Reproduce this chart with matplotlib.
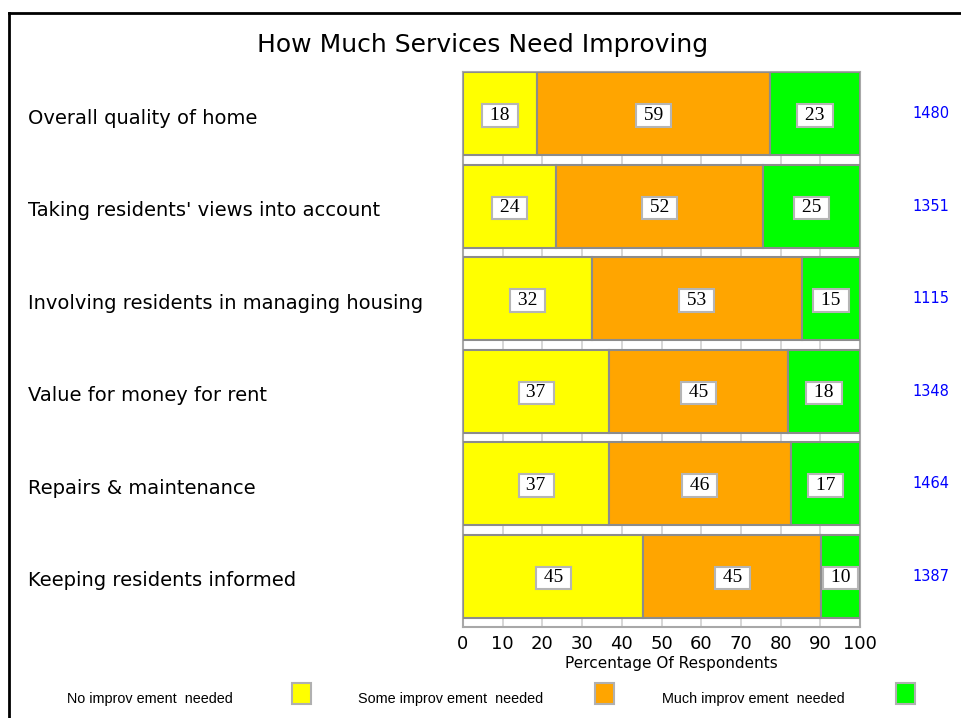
import matplotlib
matplotlib.use("Agg")
import matplotlib.pyplot as plt
import matplotlib.transforms as mtransforms
from matplotlib.patches import Rectangle
from matplotlib.lines import Line2D
import numpy as np

categories = [
    "Overall quality of home",
    "Taking residents' views into account",
    "Involving residents in managing housing",
    "Value for money for rent",
    "Repairs & maintenance",
    "Keeping residents informed",
]
series_names = ["No improv ement  needed", "Some improv ement  needed", "Much improv ement  needed"]
colors = ["#ffff00", "#ffa500", "#00ff00"]

# segment widths (percent)
no_improve = [18.6, 23.4, 32.4, 36.8, 36.8, 45.4]
some_improve = [58.7, 52.2, 53.0, 45.1, 45.7, 44.9]
much_improve = [22.7, 24.4, 14.6, 18.1, 17.5, 9.7]
# labels printed in the boxes
no_labels = [18, 24, 32, 37, 37, 45]
some_labels = [59, 52, 53, 45, 46, 45]
much_labels = [23, 25, 15, 18, 17, 10]
respondents = [1480, 1351, 1115, 1348, 1464, 1387]
xticks = [0, 10, 20, 30, 40, 50, 60, 70, 80, 90, 100]

W, H = 961, 718
fig = plt.figure(figsize=(W / 100, H / 100), dpi=100)
fig.patch.set_facecolor("white")

ax = fig.add_axes([463 / W, 1 - 627 / H, (860 - 463) / W, (627 - 72) / H])
ax.set_xlim(0, 100)
ax.set_ylim(len(categories), 0)

bar_h = 0.9
y = np.arange(len(categories))
series = [no_improve, some_improve, much_improve]
labels = [no_labels, some_labels, much_labels]
left = np.zeros(len(categories))
for vals, labs, col in zip(series, labels, colors):
    vals = np.array(vals)
    ax.barh(y, vals, left=left, height=bar_h, align="edge", color=col,
            edgecolor="#8c8c8c", linewidth=1.5, zorder=3)
    for yi, (l, v, lab) in enumerate(zip(left, vals, labs)):
        ax.text(l + v / 2, yi + bar_h / 2 + 0.02, f" {lab} ", ha="center", va="center",
                fontsize=14, family="Liberation Serif", color="black", zorder=5,
                bbox=dict(boxstyle="square,pad=0.15", facecolor="white",
                          edgecolor="#b5b5b5", linewidth=1.5))
    left = left + vals

ax.set_xticks(xticks)
ax.set_xticklabels([str(t) for t in xticks], fontsize=13, family="DejaVu Sans")
ax.tick_params(axis="x", length=0, pad=6)
ax.set_yticks([])
ax.grid(axis="x", color="#cfcfcf", linewidth=1.2, zorder=0)
ax.set_axisbelow(True)
for s in ax.spines.values():
    s.set_color("#a8a8a8")
    s.set_linewidth(1.5)
ax.set_xlabel("Percentage Of Respondents", fontsize=11, family="DejaVu Sans")
ax.xaxis.set_label_coords(0.525, -0.052)

# category labels and respondent counts
trans_lab = mtransforms.blended_transform_factory(fig.transFigure, ax.transData)
for yi, (cat, n) in enumerate(zip(categories, respondents)):
    fig.text(28 / W, yi + bar_h / 2 + 0.05, cat, transform=trans_lab, ha="left", va="center",
             fontsize=14, family="DejaVu Sans", color="black")
    fig.text(931 / W, yi + bar_h / 2, str(n), transform=trans_lab, ha="center", va="center",
             fontsize=10.5, family="DejaVu Sans", color="#0000ff")

fig.text(483 / W, 1 - 45 / H, "How Much Services Need Improving", ha="center", va="center",
         fontsize=18, family="DejaVu Sans", color="black")

# legend
legend_text_x = [67, 358, 662]
legend_box_x = [292, 595, 896]
for name, col, tx, bx in zip(series_names, colors, legend_text_x, legend_box_x):
    fig.text(tx / W, 1 - 699 / H, name, ha="left", va="center", fontsize=10.4,
             family="Liberation Sans", color="black")
    fig.add_artist(Rectangle((bx / W, 1 - 704 / H), 19 / W, 21 / H, transform=fig.transFigure,
                             facecolor=col, edgecolor="#b0b0b0", linewidth=1.5))

# outer frame (top and left visible)
fig.add_artist(Line2D([9 / W, 1.0], [1 - 13 / H, 1 - 13 / H], transform=fig.transFigure,
                      color="black", linewidth=2))
fig.add_artist(Line2D([9 / W, 9 / W], [1 - 13 / H, 0.0], transform=fig.transFigure,
                      color="black", linewidth=2))

fig.savefig("out.png", dpi=100, facecolor="white")
